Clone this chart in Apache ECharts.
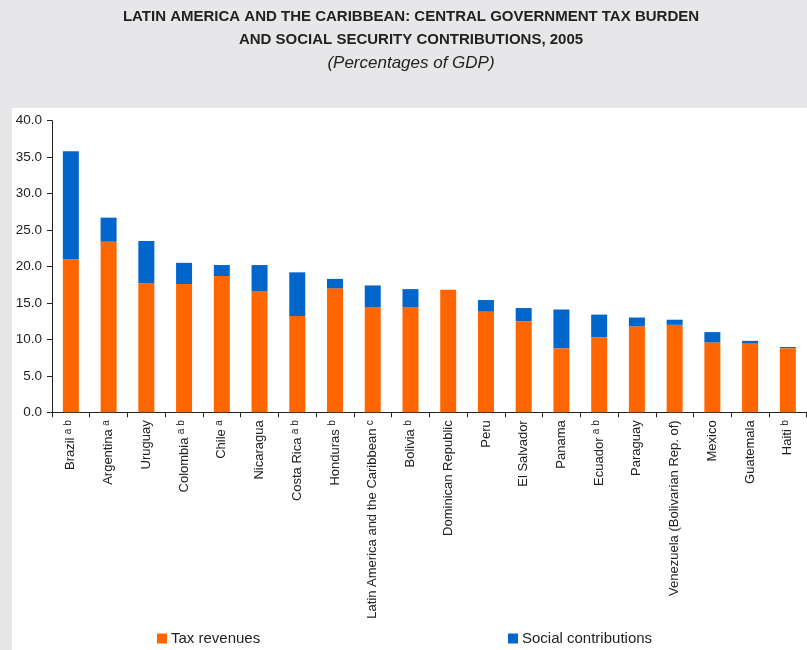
<!DOCTYPE html>
<html>
<head>
<meta charset="utf-8">
<script src="https://cdn.jsdelivr.net/npm/echarts@6/dist/echarts.min.js"></script>
<style>
html,body{margin:0;padding:0;background:#E7E7E9;}
#chart{width:807px;height:650px;}
</style>
</head>
<body>
<div id="chart"></div>
<script>
const categories = ['Brazil','Argentina','Uruguay','Colombia','Chile','Nicaragua','Costa Rica','Honduras','Latin America and the Caribbean','Bolivia','Dominican Republic','Peru','El Salvador','Panama','Ecuador','Paraguay','Venezuela (Bolivarian Rep. of)','Mexico','Guatemala','Haiti'];
const notes = ['a b','a','','a b','a','','a b','b','c','b','','','','','a b','','','','','b'];
const taxRevenues = [21.0,23.4,17.7,17.6,18.7,16.6,13.2,17.0,14.4,14.4,16.8,13.8,12.5,8.8,10.3,11.8,12.0,9.6,9.5,8.8];
const socialContributions = [14.8,3.3,5.8,2.9,1.5,3.6,6.0,1.3,3.0,2.5,0.0,1.6,1.8,5.3,3.1,1.2,0.7,1.4,0.3,0.15];
const yTicks = {min:0, max:40, interval:5};

const chart = echarts.init(document.getElementById('chart'), null, {renderer:'canvas'});
const FONT = "'Liberation Sans', Arial, Helvetica, sans-serif";
chart.setOption({
  backgroundColor:'#E7E7E9',
  animation:false,
  textStyle:{fontFamily:FONT},
  graphic:[
    {type:'rect', z:-100, silent:true, shape:{x:12,y:108,width:795,height:542}, style:{fill:'#FFFFFF'}},
    {type:'text', x:411, y:17, style:{text:'LATIN AMERICA AND THE CARIBBEAN: CENTRAL GOVERNMENT TAX BURDEN', font:"bold 15px "+FONT, fill:'#222', align:'center', verticalAlign:'middle'}},
    {type:'text', x:411, y:40, style:{text:'AND SOCIAL SECURITY CONTRIBUTIONS, 2005', font:"bold 15px "+FONT, fill:'#222', align:'center', verticalAlign:'middle'}},
    {type:'text', x:411, y:63, style:{text:'(Percentages of GDP)', font:"italic 17px "+FONT, fill:'#222', align:'center', verticalAlign:'middle'}}
  ],
  legend:[
    {data:['Tax revenues'], left:152, top:626, itemWidth:10, itemHeight:10, icon:'rect', itemGap:4,
     textStyle:{fontSize:15, color:'#222', fontFamily:FONT, padding:[0,0,0,-1]}},
    {data:['Social contributions'], left:503, top:626, itemWidth:10, itemHeight:10, icon:'rect',
     textStyle:{fontSize:15, color:'#222', fontFamily:FONT, padding:[0,0,0,-1]}}
  ],
  grid:{left:52, right:0.3, top:120.7, height:291.6, containLabel:false},
  xAxis:{
    type:'category', data:categories,
    axisLine:{lineStyle:{color:'#222', width:1}},
    axisTick:{show:true, length:5, lineStyle:{color:'#222'}},
    axisLabel:{
      rotate:90, margin:8, interval:0, color:'#222',
      formatter:function(v, i){ return notes[i] ? '{n|'+v+'} {s|'+notes[i]+'}' : '{n|'+v+'}'; },
      rich:{
        n:{fontSize:13, fontFamily:FONT, color:'#222', lineHeight:15},
        s:{fontSize:10, fontFamily:FONT, color:'#222', lineHeight:10, verticalAlign:'top'}
      }
    }
  },
  yAxis:{
    type:'value', min:yTicks.min, max:yTicks.max, interval:yTicks.interval,
    axisLine:{show:true, lineStyle:{color:'#222', width:1}},
    axisTick:{show:true, length:5, lineStyle:{color:'#222'}},
    splitLine:{show:false},
    axisLabel:{margin:10, fontSize:13.5, color:'#222', fontFamily:FONT, formatter:function(v){return v.toFixed(1);}}
  },
  series:[
    {name:'Tax revenues', type:'bar', stack:'total', data:taxRevenues, barWidth:16, itemStyle:{color:'#FF6600'}},
    {name:'Social contributions', type:'bar', stack:'total', data:socialContributions, barWidth:16, itemStyle:{color:'#0066CC'}}
  ]
});
</script>
</body>
</html>
